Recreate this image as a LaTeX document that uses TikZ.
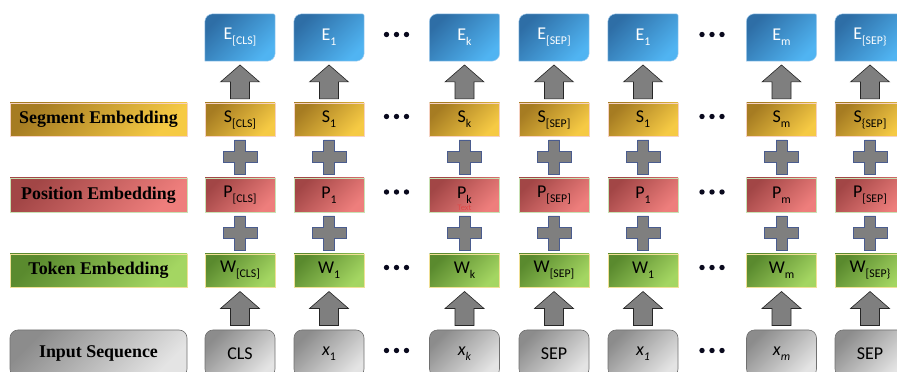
\documentclass[tikz,border=0pt]{standalone}
\usepackage{fontspec}
\setmainfont{Carlito}
\newfontfamily\labfont{Liberation Serif}
\usetikzlibrary{backgrounds,calc}
\definecolor{eA}{HTML}{2E6EA6}\definecolor{eB}{HTML}{50B4F2}
\definecolor{sA}{HTML}{A67C22}\definecolor{sB}{HTML}{F6CA44}
\definecolor{pA}{HTML}{A24646}\definecolor{pB}{HTML}{EE7E7C}
\definecolor{wA}{HTML}{5A8A2E}\definecolor{wB}{HTML}{A4D662}
\definecolor{iA}{HTML}{8C8C8C}\definecolor{iB}{HTML}{E4E4E4}
\definecolor{eedge}{HTML}{A8D0F0}\definecolor{sedge}{HTML}{F6D2C2}
\definecolor{pedge}{HTML}{C8E2B4}\definecolor{wedge}{HTML}{F0E096}
\definecolor{iedge}{HTML}{707070}
\definecolor{arrowgray}{HTML}{7F7F7F}\definecolor{plusedge}{HTML}{4A5C8E}
\definecolor{dotc}{HTML}{0A0A1E}\definecolor{faintred}{HTML}{E04848}
\newcommand\sbs[1]{\raisebox{-0.28em}{\fontsize{11.8}{11.8}\selectfont #1}}
\tikzset{
  cell/.style={minimum width=70pt, inner sep=0pt, font=\fontsize{18}{18}\selectfont},
  ecell/.style={cell, minimum height=47pt, text=white},
  eshade/.style={top color=eA, bottom color=eB, shading angle=45, draw=eedge, line width=0.5pt},
  segbox/.style={cell, minimum height=33pt, top color=sA, bottom color=sB, shading angle=45, draw=sedge, line width=0.6pt},
  posbox/.style={cell, minimum height=34pt, top color=pA, bottom color=pB, shading angle=45, draw=pedge, line width=0.6pt},
  tokbox/.style={cell, minimum height=33pt, top color=wA, bottom color=wB, shading angle=45, draw=wedge, line width=0.6pt},
  inbox/.style={cell, minimum height=47pt, rounded corners=8pt, top color=iA, bottom color=iB, shading angle=45, draw=iedge, line width=0.6pt},
  labfontstyle/.style={font=\labfont\bfseries\fontsize{17.9}{17.9}\selectfont},
  seglab/.style={segbox, minimum width=177pt, labfontstyle},
  poslab/.style={posbox, minimum width=177pt, labfontstyle},
  toklab/.style={tokbox, minimum width=177pt, labfontstyle},
  inlab/.style={inbox, minimum width=177pt, labfontstyle},
  blockarrow/.style={fill=arrowgray, draw=black!85, line width=0.6pt},
  plusshape/.style={fill=arrowgray, draw=plusedge, line width=0.7pt},
  dotstyle/.style={fill=dotc}
}
\begin{document}
\begin{tikzpicture}[x=1pt,y=1pt]
\useasboundingbox (0,0) rectangle (897,372);
\clip (0,0) rectangle (897,372);
% row labels
\node[seglab] (lseg) at (98.5,252.5) {Segment Embedding};
\node[poslab] (lpos) at (98.5,177) {Position Embedding};
\node[toklab] (ltok) at (98.5,101.5) {Token Embedding};
\node[inlab] (linp) at (98.5,18.5) {Input Sequence};
% columns
\foreach \cx/\id/\te/\ts/\tp/\tw/\ti in {
  240/a/{E\sbs{[CLS]}}/{S\sbs{[CLS]}}/{P\sbs{[CLS]}}/{W\sbs{[CLS]}}/{CLS},
  329/b/{E\sbs{1}}/{S\sbs{1}}/{P\sbs{1}}/{W\sbs{1}}/{\textit{x}\sbs{1}},
  464.5/c/{E\sbs{k}}/{S\sbs{k}}/{P\sbs{k}}/{W\sbs{k}}/{\textit{x}\sbs{\textit{k}}},
  554/d/{E\sbs{[SEP]}}/{S\sbs{[SEP]}}/{P\sbs{[SEP]}}/{W\sbs{[SEP]}}/{SEP},
  643/e/{E\sbs{1}}/{S\sbs{1}}/{P\sbs{1}}/{W\sbs{1}}/{\textit{x}\sbs{\textit{1}}},
  781.5/f/{E\sbs{m}}/{S\sbs{m}}/{P\sbs{m}}/{W\sbs{m}}/{\textit{x}\sbs{\textit{m}}},
  870/g/{E\sbs{[SEP\}}}/{S\sbs{\{SEP]}}/{P\sbs{[SEP]}}/{W\sbs{[SEP\}}}/{SEP}}{
  \node[ecell] (e\id) at (\cx,334.5) {\te};
  \begin{scope}[on background layer]
    \path[eshade] (e\id.south west) -- ([yshift=-8pt]e\id.north west)
      arc[start angle=180,end angle=90,radius=8pt] -- ([xshift=-2pt]e\id.north east)
      arc[start angle=90,end angle=0,radius=2pt] -- ([yshift=8pt]e\id.south east)
      arc[start angle=0,end angle=-90,radius=8pt] -- cycle;
  \end{scope}
  \node[segbox] (s\id) at (\cx,252.5) {\ts};
  \node[posbox] (p\id) at (\cx,177) {\tp};
  \node[tokbox] (w\id) at (\cx,101.5) {\tw};
  \node[inbox] (i\id) at (\cx,18.5) {\ti};
  % block arrows
  \draw[blockarrow, shift={($(s\id.north)!0.5!(e\id.south)$)}]
    (-9.5,-17) -- (-9.5,0) -- (-19.5,0) -- (0,17) -- (19.5,0) -- (9.5,0) -- (9.5,-17) -- cycle;
  \draw[blockarrow, shift={($(i\id.north)!0.5!(w\id.south)$)}]
    (-9.5,-17) -- (-9.5,0) -- (-19.5,0) -- (0,17) -- (19.5,0) -- (9.5,0) -- (9.5,-17) -- cycle;
  % plus signs
  \foreach \lo/\hi in {p/s, w/p}{
    \draw[plusshape, shift={($(\lo\id.north)!0.5!(\hi\id.south)$)}]
      (-5.5,17) -- (5.5,17) -- (5.5,5.5) -- (17,5.5) -- (17,-5.5) -- (5.5,-5.5) --
      (5.5,-17) -- (-5.5,-17) -- (-5.5,-5.5) -- (-17,-5.5) -- (-17,5.5) -- (-5.5,5.5) -- cycle;
  }
}
% faint leftover text in P_k
\node[text=faintred, font=\fontsize{8.5}{8.5}\selectfont, inner sep=0pt, anchor=north] (faint) at ($(pc.center)+(0,-10)$) {Text};
% ellipsis dots
\foreach \dx in {396.5, 712}{
  \foreach \dy in {337.5, 255.5, 180, 104.5, 21.5}{
    \foreach \k in {-10,0,10}{
      \fill[dotstyle] (\dx+\k,\dy) circle[radius=2.7];
    }
  }
}
\end{tikzpicture}
\end{document}
